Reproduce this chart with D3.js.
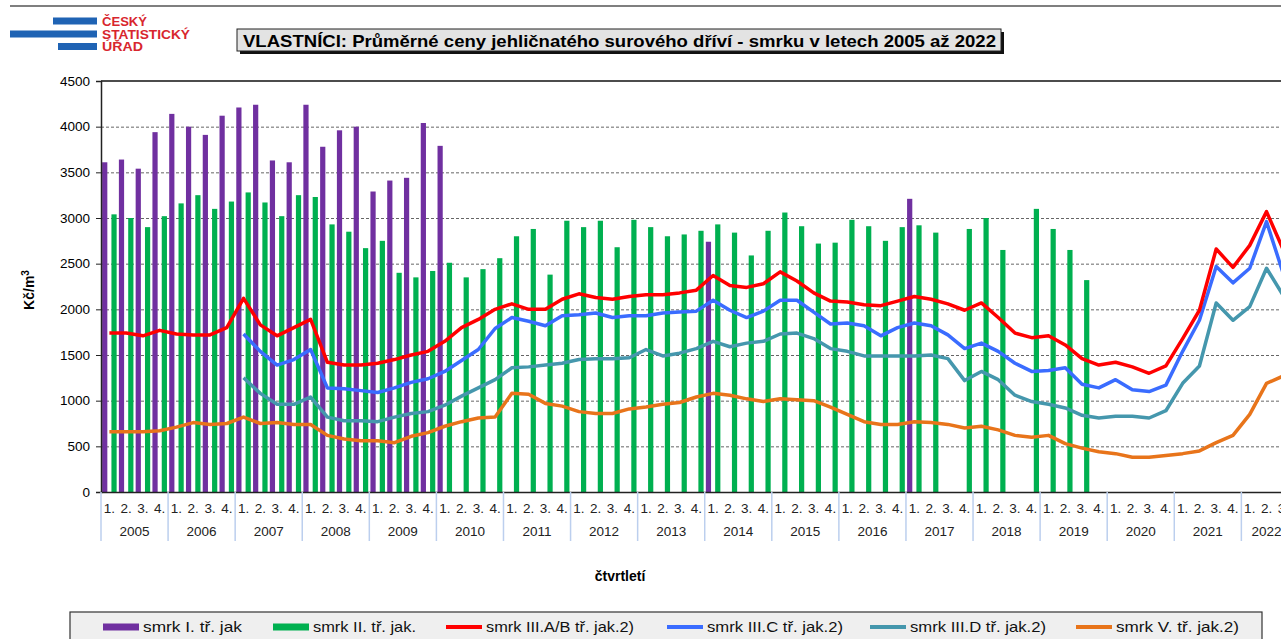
<!DOCTYPE html>
<html lang="cs">

<head>
    <meta charset="UTF-8">
    <title>VLASTNÍCI - ceny smrku</title>
    <style>
        body {
            margin: 0;
            background: #fff;
            overflow: hidden;
        }

        svg {
            display: block;
            font-family: "Liberation Sans", Arial, sans-serif;
        }
    </style>
    <script src="https://d3js.org/d3.v7.min.js"></script>
</head>

<body>
    <div class="graph"></div>
</body>
<script>
    // data (Kč/m3), quarters 2005 Q1 .. 2022 Q3
    const years = ['2005', '2006', '2007', '2008', '2009', '2010', '2011', '2012', '2013',
        '2014', '2015', '2016', '2017', '2018', '2019', '2020', '2021', '2022']
    const quarters = ['1.', '2.', '3.', '4.']
    const lastYearQuarters = 3
    const yTicks = [0, 500, 1000, 1500, 2000, 2500, 3000, 3500, 4000, 4500]

    const smrkI = [
        3610, 3640, 3540, 3940,
        4140, 4000, 3910, 4120,
        4210, 4240, 3630, 3610,
        4240, 3780, 3960, 4000,
        3290, 3410, 3440, 4040,
        3790, null, null, null,
        null, null, null, null,
        null, null, null, null,
        null, null, null, null,
        2740, null, null, null,
        null, null, null, null,
        null, null, null, null,
        3210, null, null, null,
        null, null, null, null,
        null, null, null, null,
        null, null, null, null,
        null, null, null, null,
        null, null, null
    ]
    const smrkII = [
        3040, 3000, 2900, 3020,
        3160, 3250, 3100, 3180,
        3280, 3170, 3020, 3250,
        3230, 2930, 2850, 2670,
        2750, 2400, 2350, 2420,
        2510, 2350, 2440, 2560,
        2800, 2880, 2380, 2970,
        2900, 2970, 2680, 2980,
        2900, 2800, 2820, 2860,
        2930, 2840, 2590, 2860,
        3060, 2910, 2720, 2730,
        2980, 2910, 2750, 2900,
        2920, 2840, null, 2880,
        3000, 2650, null, 3100,
        2880, 2650, 2320, null,
        null, null, null, null,
        null, null, null, null,
        null, null, null
    ]
    const smrkIIIAB = [
        1740, 1740, 1710, 1770,
        1730, 1720, 1720, 1800,
        2120, 1830, 1710, 1800,
        1890, 1420, 1390, 1390,
        1410, 1450, 1500, 1540,
        1650, 1800, 1890, 2000,
        2060, 2000, 2000, 2110,
        2170, 2130, 2110, 2140,
        2160, 2160, 2180, 2210,
        2370, 2260, 2240, 2280,
        2410, 2310, 2180, 2090,
        2080, 2050, 2040, 2090,
        2140, 2110, 2060, 1990,
        2070, 1910, 1740, 1690,
        1710, 1610, 1460, 1390,
        1420, 1370, 1300, 1380,
        1680, 1990, 2660, 2460,
        2700, 3070, 2650
    ]
    const smrkIIIC = [
        null, null, null, null,
        null, null, null, null,
        1730, 1540, 1390, 1450,
        1560, 1140, 1130, 1110,
        1090, 1140, 1200, 1240,
        1320, 1440, 1560, 1790,
        1910, 1870, 1820, 1930,
        1940, 1960, 1910, 1930,
        1930, 1960, 1970, 1980,
        2100, 1990, 1910, 1980,
        2100, 2100, 1970, 1840,
        1850, 1820, 1710, 1800,
        1850, 1820, 1720, 1570,
        1630, 1540, 1410, 1320,
        1330, 1360, 1180, 1140,
        1230, 1120, 1100, 1170,
        1540, 1880, 2470, 2290,
        2450, 2960, 2390
    ]
    const smrkIIID = [
        null, null, null, null,
        null, null, null, null,
        1250, 1080, 960, 960,
        1040, 820, 780, 780,
        770, 820, 860, 880,
        950, 1050, 1140, 1230,
        1360, 1370, 1390, 1410,
        1450, 1460, 1460, 1470,
        1560, 1490, 1520, 1570,
        1650, 1590, 1630, 1650,
        1730, 1740, 1680, 1570,
        1540, 1490, 1490, 1490,
        1490, 1500, 1460, 1220,
        1320, 1230, 1060, 990,
        960, 920, 840, 810,
        830, 830, 810, 890,
        1190, 1380, 2070, 1880,
        2030, 2450, 2150
    ]
    const smrkV = [
        660, 660, 660, 670,
        710, 760, 740, 750,
        820, 750, 760, 740,
        740, 620, 580, 560,
        560, 540, 610, 650,
        720, 770, 810, 820,
        1080, 1070, 970, 940,
        880, 860, 860, 910,
        930, 960, 980, 1040,
        1080, 1060, 1020, 990,
        1020, 1010, 1000, 930,
        850, 770, 740, 740,
        770, 760, 740, 700,
        720, 680, 620, 600,
        620, 530, 480, 440,
        420, 380, 380, 400,
        420, 450, 540, 620,
        850, 1190, 1270
    ]

    const barSeries = [
        { name: 'smrk I. tř. jak', key: 'I', values: smrkI, color: '#7030a0' },
        { name: 'smrk II. tř. jak.', key: 'II', values: smrkII, color: '#00b050' }
    ]
    const lineSeries = [
        { name: 'smrk III.A/B tř. jak.2)', values: smrkIIIAB, color: '#ff0000' },
        { name: 'smrk III.C tř. jak.2)', values: smrkIIIC, color: '#3a6cff' },
        { name: 'smrk III.D tř. jak.2)', values: smrkIIID, color: '#4597ad' },
        { name: 'smrk V. tř. jak.2)', values: smrkV, color: '#e8741a' }
    ]

    // quarter categories
    const cats = []
    years.forEach((yr, yi) => {
        const n = yi === years.length - 1 ? lastYearQuarters : 4
        quarters.slice(0, n).forEach(q => cats.push(yr + '|' + q))
    })

    const width = 1281, height = 639
    const plotLeft = 101, plotTop = 81, plotBottom = 492
    const qStep = 16.77

    const svg = d3.select('.graph').append('svg')
        .attr('width', width)
        .attr('height', height)

    svg.append('rect').attr('width', width).attr('height', height).attr('fill', '#fff')

    const x = d3.scaleBand()
        .domain(cats)
        .range([plotLeft, plotLeft + cats.length * qStep])
    const xInner = d3.scaleBand()
        .domain(barSeries.map(s => s.key))
        .range([0, x.bandwidth()])
        .paddingInner(0.44)
        .paddingOuter(0.12)
    const y = d3.scaleLinear()
        .domain([0, 4500])
        .range([plotBottom, plotTop])
    const plotRight = x.range()[1]

    // top rule and logo
    svg.append('line')
        .attr('x1', 10).attr('x2', width).attr('y1', 6).attr('y2', 6)
        .attr('stroke', '#555').attr('stroke-width', 1.5)

    const logo = svg.append('g')
    logo.selectAll('rect')
        .data([[53, 17.5], [10, 30.5], [58, 43]])
        .enter().append('rect')
        .attr('x', d => d[0]).attr('y', d => d[1])
        .attr('width', d => 97 - d[0]).attr('height', 7)
        .attr('fill', '#1f63b4')
    logo.selectAll('text')
        .data([['ČESKÝ', 26, 45], ['STATISTICKÝ', 38.5, 88], ['ÚŘAD', 51, 41]])
        .enter().append('text')
        .attr('x', 102).attr('y', d => d[1])
        .attr('fill', '#d8262e')
        .attr('font-size', 12.5)
        .attr('font-weight', 'bold')
        .attr('textLength', d => d[2])
        .attr('lengthAdjust', 'spacingAndGlyphs')
        .text(d => d[0])

    // title box
    svg.append('rect')
        .attr('x', 240).attr('y', 32).attr('width', 764).attr('height', 22)
        .attr('fill', '#111')
    svg.append('rect')
        .attr('x', 237).attr('y', 29).attr('width', 764).attr('height', 22)
        .attr('fill', '#e3e3e3').attr('stroke', '#222').attr('stroke-width', 1)
    svg.append('text')
        .attr('x', 243).attr('y', 46.5)
        .attr('font-size', 17).attr('font-weight', 'bold').attr('fill', '#000')
        .attr('textLength', 753)
        .attr('lengthAdjust', 'spacingAndGlyphs')
        .text('VLASTNÍCI: Průměrné ceny jehličnatého surového dříví - smrku v letech 2005 až 2022')

    // gridlines
    svg.append('g')
        .attr('transform', `translate(${plotLeft},0)`)
        .call(d3.axisLeft(y).tickValues(yTicks.slice(1, -1)).tickSize(-(plotRight - plotLeft)).tickFormat(''))
        .call(g => g.select('.domain').remove())
        .call(g => g.selectAll('line').attr('stroke', '#666').attr('stroke-dasharray', '3,2'))
    svg.append('line')
        .attr('x1', plotLeft).attr('x2', plotRight).attr('y1', y(4500)).attr('y2', y(4500))
        .attr('stroke', '#111').attr('stroke-width', 1.5)

    // bars
    barSeries.forEach(s => {
        svg.append('g').selectAll('rect')
            .data(s.values.map((v, i) => ({ c: cats[i], v })).filter(d => d.v != null))
            .enter().append('rect')
            .attr('x', d => x(d.c) + xInner(s.key))
            .attr('width', xInner.bandwidth())
            .attr('y', d => y(d.v))
            .attr('height', d => plotBottom - y(d.v))
            .attr('fill', s.color)
    })

    // lines
    const line = d3.line()
        .defined(d => d.v != null)
        .x(d => x(d.c) + x.bandwidth() / 2)
        .y(d => y(d.v))
    lineSeries.slice().reverse().forEach(s => {
        svg.append('path')
            .datum(s.values.map((v, i) => ({ c: cats[i], v })))
            .attr('d', line)
            .attr('fill', 'none')
            .attr('stroke', s.color)
            .attr('stroke-width', 3.5)
            .attr('stroke-linejoin', 'round')
    })

    // y axis
    svg.append('g')
        .attr('transform', `translate(${plotLeft},0)`)
        .call(d3.axisLeft(y).tickValues(yTicks).tickSize(5).tickPadding(6).tickFormat(d3.format('d')))
        .call(g => g.select('.domain').attr('stroke', '#222').attr('stroke-width', 1.5))
        .call(g => g.selectAll('.tick line').attr('stroke', '#222'))
        .call(g => g.selectAll('text').attr('font-size', 13.5).attr('fill', '#000')
            .attr('font-family', '"Liberation Sans", Arial, sans-serif'))

    svg.append('text')
        .attr('transform', 'translate(34,290) rotate(-90)')
        .attr('text-anchor', 'middle')
        .attr('font-size', 14).attr('font-weight', 'bold')
        .text('Kč/m')
        .append('tspan').attr('dy', -5).attr('font-size', 10).text('3')

    // x axis: quarters + years
    svg.append('g')
        .attr('transform', `translate(0,${plotBottom})`)
        .call(d3.axisBottom(x).tickSize(0).tickPadding(11).tickFormat(d => d.split('|')[1]))
        .call(g => g.select('.domain').attr('stroke', '#222').attr('stroke-width', 1.5))
        .call(g => g.selectAll('text').attr('font-size', 13.5).attr('fill', '#222')
            .attr('font-family', '"Liberation Sans", Arial, sans-serif'))

    const yearCells = years.map(yr => {
        const qs = cats.filter(c => c.startsWith(yr))
        return { yr, x0: x(qs[0]), x1: x(qs[qs.length - 1]) + x.bandwidth() }
    })
    svg.append('g').selectAll('line')
        .data(yearCells)
        .enter().append('line')
        .attr('x1', d => d.x0).attr('x2', d => d.x0)
        .attr('y1', plotBottom).attr('y2', 541)
        .attr('stroke', '#bccfee').attr('stroke-width', 1.5)
    svg.append('g').selectAll('text')
        .data(yearCells)
        .enter().append('text')
        .attr('x', d => (d.x0 + d.x1) / 2)
        .attr('y', 536)
        .attr('text-anchor', 'middle')
        .attr('font-size', 13.5).attr('fill', '#222')
        .text(d => d.yr)

    svg.append('text')
        .attr('x', 620).attr('y', 581)
        .attr('text-anchor', 'middle')
        .attr('font-size', 14).attr('font-weight', 'bold')
        .text('čtvrtletí')

    // legend
    const legendX = [103, 273, 446, 667, 870, 1076]
    const legendW = [99, 103, 148, 136, 136, 123]
    const legendItems = barSeries.map(s => ({ ...s, type: 'bar' }))
        .concat(lineSeries.map(s => ({ ...s, type: 'line' })))
    svg.append('rect')
        .attr('x', 70).attr('y', 612).attr('width', 1192).attr('height', 40)
        .attr('fill', '#efefef').attr('stroke', '#333').attr('stroke-width', 1.2)
    const item = svg.append('g').selectAll('g')
        .data(legendItems)
        .enter().append('g')
        .attr('transform', (d, i) => `translate(${legendX[i]},627)`)
    item.append('rect')
        .attr('x', 0).attr('width', 36)
        .attr('y', d => d.type === 'bar' ? -3.5 : -2)
        .attr('height', d => d.type === 'bar' ? 7 : 4)
        .attr('fill', d => d.color)
    item.append('text')
        .attr('x', 40).attr('y', 5)
        .attr('font-size', 14.5).attr('fill', '#111')
        .attr('textLength', (d, i) => legendW[i])
        .attr('lengthAdjust', 'spacingAndGlyphs')
        .text(d => d.name)
</script>

</html>
